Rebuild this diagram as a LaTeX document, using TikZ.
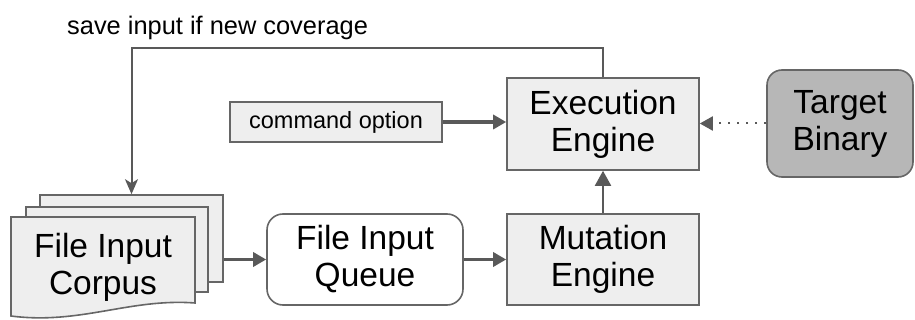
\documentclass[tikz,border=0pt]{standalone}
\usepackage{fontspec}
\setmainfont{Liberation Sans}
\usetikzlibrary{arrows.meta}
\definecolor{boxfill}{HTML}{EEEEEE}
\definecolor{boxline}{HTML}{666666}
\definecolor{arrowc}{HTML}{595959}
\definecolor{targetfill}{HTML}{B7B7B7}
\newcommand{\bigtxt}{\fontsize{33.5}{37}\selectfont}
\newcommand{\smalltxt}{\fontsize{23.5}{27}\selectfont}
\newcommand{\labeltxt}{\fontsize{25.4}{29}\selectfont}
\begin{document}
\begin{tikzpicture}[x=1pt,y=-1pt,
  box/.style={draw=boxline, line width=1.6pt, fill=boxfill, inner sep=0pt, align=center, font=\bigtxt},
  page/.style={draw=boxline, line width=1.6pt, fill=boxfill, inner sep=0pt},
  thickarrow/.style={draw=arrowc, line width=3.5pt, -{Triangle[length=13pt,width=14pt]}},
  thinarrow/.style={draw=arrowc, line width=2pt, -{Triangle[length=15pt,width=16pt]}},
  fbarrow/.style={draw=arrowc, line width=2pt, -{Stealth[length=15pt,width=13pt,inset=4pt]}},
  dotarrow/.style={draw=arrowc, line width=2pt, dash pattern=on 2pt off 7pt, -{Triangle[length=13pt,width=14pt]}}
]
\useasboundingbox (0,0) rectangle (915,320);

% nodes
\node[box, minimum width=192pt, minimum height=92pt] (exec) at (603,124) {Execution\\Engine};
\node[box, minimum width=192pt, minimum height=91pt] (mut) at (603,259.5) {Mutation\\Engine};
\node[box, fill=white, rounded corners=16pt, minimum width=196pt, minimum height=91pt] (queue) at (365,259.5) {File Input\\Queue};
\node[box, font=\smalltxt, minimum width=212pt, minimum height=40pt] (cmd) at (336,122) {command option};
\node[box, fill=targetfill, rounded corners=15pt, minimum width=146pt, minimum height=107pt] (target) at (840,123.5) {Target\\Binary};

% corpus pages
\node[page, minimum width=183pt, minimum height=87pt] (page3) at (131.5,238.5) {};
\node[page, minimum width=182pt, minimum height=85pt] (page2) at (117,249.5) {};
\path[page] (11,217) -- (195,217) -- (195,303)
  .. controls (130,298) and (80,325) .. (11,316) -- cycle;
\node[font=\bigtxt, align=center, inner sep=0pt] (corpus) at (103,267) {File Input\\Corpus};

\node[anchor=base west, font=\labeltxt, inner sep=0pt] (fblabel) at (67,35) {save input if new coverage};

% connectors
\draw[fbarrow] (exec.north) -- ++(0,-29) -| (page3.north);
\draw[thickarrow] (page3.east |- queue.west) -- (queue.west);
\draw[thickarrow] (queue.east) -- (mut.west);
\draw[thinarrow] (mut.north) -- (exec.south);
\draw[thickarrow] (cmd.east) -- (exec.west |- cmd.east);
\draw[dotarrow] (target.west) -- (exec.east |- target.west);
\end{tikzpicture}
\end{document}
